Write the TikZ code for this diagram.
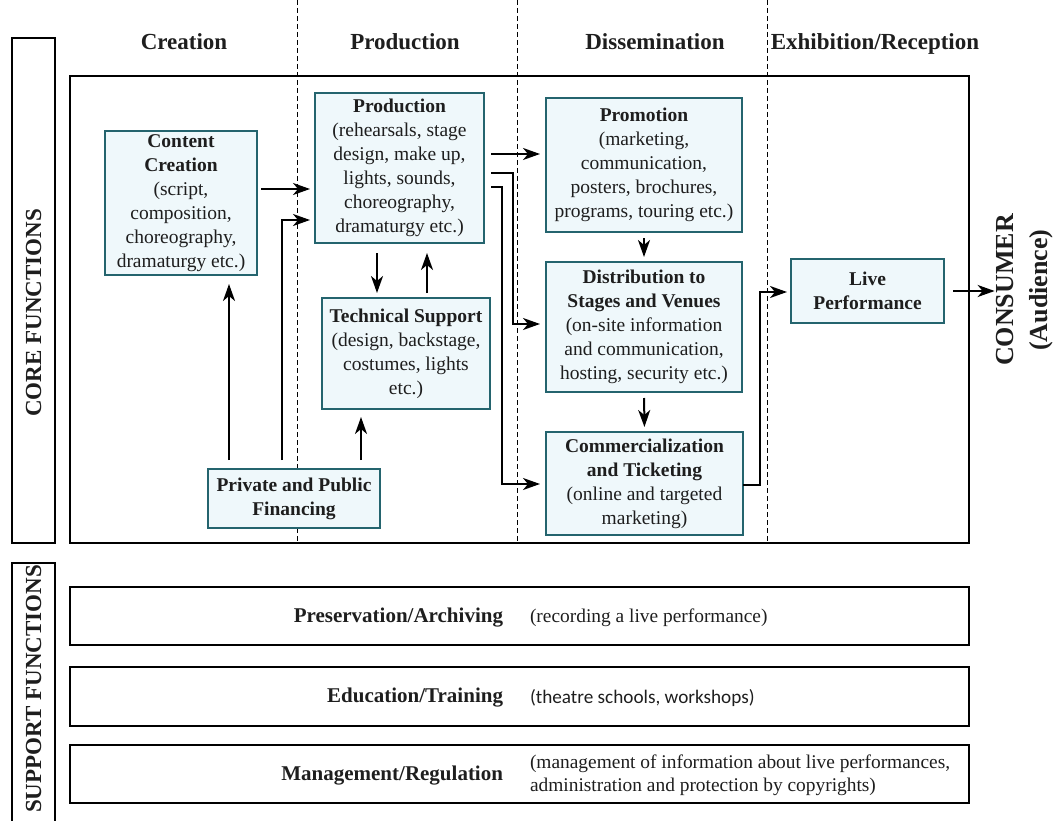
\documentclass[tikz,border=0pt]{standalone}
\usepackage{fontspec}
\setmainfont{Liberation Serif}
\newfontfamily\descsans{Carlito}
\usetikzlibrary{arrows.meta,calc}
\definecolor{boxfill}{RGB}{239,248,251}
\definecolor{boxline}{RGB}{36,100,110}
\definecolor{ink}{RGB}{30,30,30}
\begin{document}
\begin{tikzpicture}[x=1pt,y=-1pt,
  every node/.style={inner sep=0pt, outer sep=0pt, text=ink},
  func/.style={draw=boxline, fill=boxfill, line width=2.4pt, align=center,
    font=\fontsize{19.5}{24}\selectfont},
  arr/.style={line width=2pt, -{Stealth[length=17pt,width=12pt,inset=5pt]}},
  frame/.style={draw, line width=2.6pt},
  sidebox/.style={draw, line width=2.2pt},
  head/.style={font=\fontsize{23}{28}\selectfont\bfseries},
  sep/.style={line width=0.9pt, dash pattern=on 5pt off 3pt},
  rowlabel/.style={anchor=east, font=\fontsize{21}{26}\selectfont\bfseries},
  rowdesc/.style={anchor=west, align=left, font=\fontsize{19.4}{23}\selectfont},
]
\useasboundingbox (0,0) rectangle (1054,821);

% stage separators
\draw[sep] (297,0) -- (297,543);
\draw[sep] (517,0) -- (517,543);
\draw[sep] (767,0) -- (767,543);

% side bands
\draw[sidebox] (12,38) rectangle (55,543);
\draw[sidebox] (12,821) -- (12,563) -- (55,563) -- (55,821);
\node[head, rotate=90] (corelbl) at (33.5,313) {CORE FUNCTIONS};
\node[head, rotate=90] (supplbl) at (33.5,689) {SUPPORT FUNCTIONS};

% stage headings, set on a common baseline
\node[head, anchor=base] (hcre) at (184,50) {Creation};
\node[head, anchor=base] (hpro) at (405,50) {Production};
\node[head, anchor=base] (hdis) at (655,50) {Dissemination};
\node[head, anchor=base] (hexh) at (875,50) {Exhibition/Reception};

% core functions frame
\draw[frame] (70,76) rectangle (969,543);

% core function boxes
\node[func, minimum width=152pt, minimum height=144pt] (content) at (181,203)
  {\textbf{Content}\\\textbf{Creation}\\(script,\\composition,\\choreography,\\dramaturgy etc.)};
\node[func, minimum width=169pt, minimum height=150pt] (prod) at (399.5,168)
  {\textbf{Production}\\(rehearsals, stage\\design, make up,\\lights, sounds,\\choreography,\\dramaturgy etc.)};
\node[func, minimum width=168pt, minimum height=111pt] (tech) at (406,353.5)
  {\textbf{Technical Support}\\(design, backstage,\\costumes, lights\\etc.)};
\node[func, minimum width=172pt, minimum height=59pt] (fin) at (294,498.5)
  {\textbf{Private and Public}\\\textbf{Financing}};
\node[func, minimum width=196pt, minimum height=134pt] (promo) at (644,165)
  {\textbf{Promotion}\\(marketing,\\communication,\\posters, brochures,\\programs, touring etc.)};
\node[func, minimum width=196pt, minimum height=130pt] (dist) at (644,327)
  {\textbf{Distribution to}\\\textbf{Stages and Venues}\\(on-site information\\and communication,\\hosting, security etc.)};
\node[func, minimum width=197pt, minimum height=103pt] (comm) at (644.5,483.5)
  {\textbf{Commercialization}\\\textbf{and Ticketing}\\(online and targeted\\marketing)};
\node[func, minimum width=153pt, minimum height=64pt] (live) at (867.5,291)
  {\textbf{Live}\\\textbf{Performance}};

\node[rotate=90, align=center, font=\fontsize{26}{34}\selectfont\bfseries] (consumer)
  at (1025,290) {CONSUMER\\(Audience)};

% routing levels
\coordinate (lvA) at (0,189);
\coordinate (lvB) at (0,220);
\coordinate (lvC) at (0,154);
\coordinate (lvD) at (0,173);
\coordinate (lvE) at (0,187);
\coordinate (lvF) at (0,324);
\coordinate (lvG) at (0,484);
\coordinate (lvH) at (0,485);
\coordinate (lvI) at (0,292);
\coordinate (xa) at (282,0);
\coordinate (xb) at (513,0);
\coordinate (xc) at (502,0);
\coordinate (xd) at (760,0);
\coordinate (xfc) at (229,0);
\coordinate (xft) at (361,0);
\coordinate (xpd) at (377,0);
\coordinate (xtu) at (427,0);

% connectors
\draw[arr, shorten <=4pt, shorten >=5pt] (content.east |- lvA) -- (prod.west |- lvA);
\draw[arr, shorten <=9pt, shorten >=5pt] (fin.north -| xa) |- (prod.west |- lvB);
\draw[arr, shorten <=9pt, shorten >=9pt] (fin.north -| xfc) -- (content.south -| xfc);
\draw[arr, shorten <=9pt, shorten >=8pt] (fin.north -| xft) -- (tech.south -| xft);
\draw[arr, shorten <=10pt, shorten >=5pt] (prod.south -| xpd) -- (tech.north -| xpd);
\draw[arr, shorten <=5pt, shorten >=10pt] (tech.north -| xtu) -- (prod.south -| xtu);
\draw[arr, shorten <=7pt, shorten >=6pt] (prod.east |- lvC) -- (promo.west |- lvC);
\draw[arr, shorten <=7pt, shorten >=6pt] (prod.east |- lvD) -| (xb |- lvF) -- (dist.west |- lvF);
\draw[arr, shorten <=7pt, shorten >=6pt] (prod.east |- lvE) -| (xc |- lvG) -- (comm.west |- lvG);
\draw[arr, shorten <=6pt, shorten >=5pt] (promo.south) -- (dist.north);
\draw[arr, shorten <=6pt, shorten >=5pt] (dist.south) -- (comm.north);
\draw[arr, shorten >=4pt] (comm.east |- lvH) -| (xd |- lvI) -- (live.west |- lvI);
\draw[arr, shorten <=9pt, shorten >=2pt] (live.east) -- (consumer.north |- live.east);

% support functions
\draw[frame] (70,587) rectangle (969,645);
\draw[frame] (70,667) rectangle (969,726);
\draw[frame] (70,745) rectangle (969,803);
\node[rowlabel] (pres) at (503,618) {Preservation/Archiving};
\node[rowdesc] (presd) at (530,618) {(recording a live performance)};
\node[rowlabel] (edu) at (503,698) {Education/Training};
\node[rowdesc, font=\fontsize{19.2}{23}\descsans] (edud) at (530,698) {(theatre schools, workshops)};
\node[rowlabel] (mgmt) at (503,776) {Management/Regulation};
\node[rowdesc] (mgmtd) at (530,775) {(management of information about live performances,\\administration and protection by copyrights)};
\end{tikzpicture}
\end{document}
